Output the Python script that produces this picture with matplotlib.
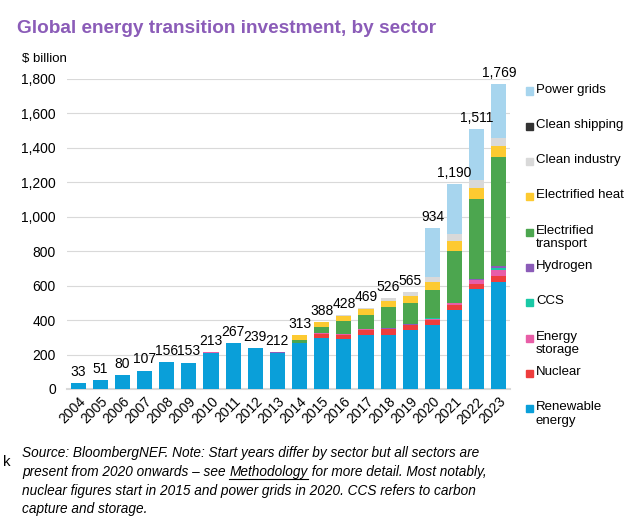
import matplotlib.pyplot as plt
import matplotlib.patches as mpatches
import numpy as np

plt.rcParams['font.family'] = ['Liberation Sans', 'DejaVu Sans']

years = [str(y) for y in range(2004, 2024)]
totals = [33, 51, 80, 107, 156, 153, 213, 267, 239, 212,
          313, 388, 428, 469, 526, 565, 934, 1190, 1511, 1769]

renewable = [33, 50.5, 79.5, 106.5, 155.5, 151.5, 211, 265, 237, 209.5,
             267.5, 296.5, 289, 316, 312, 341, 370, 459, 580, 624]
nuclear = [0, 0, 0, 0, 0, 0, 0, 0, 0, 0, 0, 25, 25, 27, 34, 29, 33, 31, 31, 33]
storage = [0, 0.5, 0.5, 0.5, 0.5, 1, 1, 1, 1, 1, 2, 2, 3, 3, 5, 4, 5, 7, 20, 36]
ccs = [0, 0, 0, 0, 0, 0, 0, 0, 0, 0, 0, 0, 0, 0, 0, 0, 2, 2, 3, 11]
hydrogen = [0, 0, 0, 0, 0, 0.5, 1, 1, 1, 1.5, 0.5, 0.5, 1, 1, 1, 1, 3, 3, 4, 10]
transport = [0, 0, 0, 0, 0, 0, 0, 0, 0, 0, 13, 34, 75, 83, 122, 122, 164, 297, 466, 634]
heat = [0, 0, 0, 0, 0, 0, 0, 0, 0, 0, 30, 30, 30, 37, 39, 44, 45, 58, 66, 64]
industry = [0, 0, 0, 0, 0, 0, 0, 0, 0, 0, 0, 0, 5, 2, 13, 23.5, 27.5, 44.5, 41, 47]
shipping = [0, 0, 0, 0, 0, 0, 0, 0, 0, 0, 0, 0, 0, 0, 0, 0.5, 0.5, 0.5, 0.2, 0.2]
grids = [0, 0, 0, 0, 0, 0, 0, 0, 0, 0, 0, 0, 0, 0, 0, 0, 284, 288, 300, 310]

# bottom to top
series = [
    ("Renewable\nenergy", renewable, "#0a9fd9"),
    ("Nuclear", nuclear, "#ee3d3d"),
    ("Energy\nstorage", storage, "#e85ea7"),
    ("CCS", ccs, "#19c9a6"),
    ("Hydrogen", hydrogen, "#8b5cb8"),
    ("Electrified\ntransport", transport, "#4ca64f"),
    ("Electrified heat", heat, "#fdca31"),
    ("Clean industry", industry, "#d9d9d9"),
    ("Clean shipping", shipping, "#333333"),
    ("Power grids", grids, "#a7d5ee"),
]

fig = plt.figure(figsize=(6.4, 5.21), dpi=100)
ax = fig.add_axes([67 / 640, 1 - 389 / 521, 443 / 640, 310 / 521])

x = np.arange(len(years))
bottom = np.zeros(len(years))
for name, vals, col in series:
    ax.bar(x, vals, width=0.68, bottom=bottom, color=col, zorder=3)
    bottom += np.array(vals)

for xi, t in zip(x, totals):
    ax.annotate(f"{t:,}", (xi, t), xytext=(0, 3), textcoords="offset points",
                ha="center", va="bottom", fontsize=10, zorder=6)

ax.set_xlim(-0.5, len(years) - 0.5)
ax.set_ylim(0, 1800)
ax.set_yticks(np.arange(0, 1801, 200))
ax.set_yticklabels([f"{v:,}" for v in range(0, 1801, 200)], fontsize=10)
ax.set_xticks(x)
ax.set_xticklabels(years, rotation=45, ha="right", rotation_mode="anchor", fontsize=10)
ax.tick_params(length=0, pad=8)
ax.tick_params(axis="x", pad=4)
ax.grid(axis="y", color="#d9d9d9", linewidth=0.8, zorder=0)
for s in ["top", "right", "left"]:
    ax.spines[s].set_visible(False)
ax.spines["bottom"].set_color("#d9d9d9")
ax.spines["bottom"].set_linewidth(1.5)

# title and unit
fig.text(17 / 640, 1 - 33 / 521, "Global energy transition investment, by sector",
         fontsize=13.7, fontweight="bold", color="#8b5cb8", va="baseline")
fig.text(22 / 640, 1 - 62 / 521, "$ billion", fontsize=9.5, va="baseline")

# legend, top entry first
for i, (name, vals, col) in enumerate(series[::-1]):
    yc = 91 + i * 35.3
    fig.patches.append(mpatches.Rectangle((526 / 640, 1 - (yc + 3.5) / 521), 7 / 640, 7 / 521,
                                          transform=fig.transFigure, color=col))
    fig.text(536 / 640, 1 - (yc - 7.5) / 521, name, fontsize=9.5, va="top", linespacing=1.15)

# footnote
fs = 9.8
fig.text(22 / 640, 1 - 457 / 521,
         "Source: BloombergNEF. Note: Start years differ by sector but all sectors are",
         fontsize=fs, style="italic", va="baseline")
fig.text(3 / 640, 1 - 466 / 521, "k", fontsize=fs + 1, va="baseline")
t1 = fig.text(22 / 640, 1 - 476 / 521, "present from 2020 onwards \u2013 see ",
              fontsize=fs, style="italic", va="baseline")
fig.canvas.draw()
r = fig.canvas.get_renderer()
bb1 = t1.get_window_extent(r)
t2 = fig.text(bb1.x1 / fig.bbox.width, 1 - 476 / 521, "Methodology",
              fontsize=fs, style="italic", va="baseline")
bb2 = t2.get_window_extent(r)
fig.text(bb2.x1 / fig.bbox.width, 1 - 476 / 521, " for more detail. Most notably,",
         fontsize=fs, style="italic", va="baseline")
uy = 1 - 479 / 521
fig.add_artist(plt.Line2D([bb2.x0 / fig.bbox.width, bb2.x1 / fig.bbox.width], [uy, uy],
                          color="k", linewidth=0.8, transform=fig.transFigure))
fig.text(22 / 640, 1 - 494.5 / 521,
         "nuclear figures start in 2015 and power grids in 2020. CCS refers to carbon",
         fontsize=fs, style="italic", va="baseline")
fig.text(22 / 640, 1 - 513 / 521, "capture and storage.",
         fontsize=fs, style="italic", va="baseline")

fig.savefig("out.png", dpi=100)
